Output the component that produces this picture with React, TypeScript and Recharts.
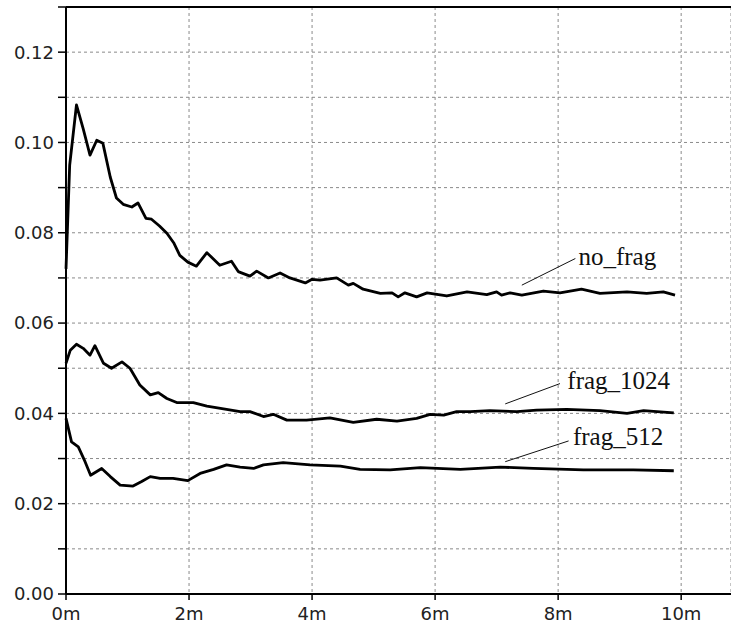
import React from 'react';
import { LineChart, Line, XAxis, YAxis, CartesianGrid, ReferenceLine, ReferenceDot } from 'recharts';

// sample times in minutes
const noFragX = [0, 0.06, 0.17, 0.28, 0.39, 0.5, 0.6, 0.72, 0.82, 0.93, 1.07, 1.17, 1.3, 1.39, 1.52, 1.64, 1.75, 1.85, 1.98, 2.12, 2.29, 2.5, 2.69, 2.8, 2.99, 3.1, 3.29, 3.48, 3.64, 3.89, 4.0, 4.13, 4.4, 4.59, 4.67, 4.83, 5.11, 5.3, 5.4, 5.51, 5.7, 5.87, 6.19, 6.52, 6.84, 7.0, 7.08, 7.22, 7.41, 7.76, 8.03, 8.38, 8.68, 9.12, 9.44, 9.71, 9.9];
const noFragY = [0.072, 0.095, 0.1083, 0.103, 0.0972, 0.1005, 0.0998, 0.0923, 0.0877, 0.0863, 0.0857, 0.0866, 0.0832, 0.083, 0.0815, 0.0799, 0.0778, 0.075, 0.0735, 0.0726, 0.0756, 0.0728, 0.0737, 0.0714, 0.0704, 0.0715, 0.07, 0.0711, 0.07, 0.0689, 0.0697, 0.0695, 0.07, 0.0684, 0.0688, 0.0675, 0.0666, 0.0667, 0.0658, 0.0667, 0.0658, 0.0667, 0.066, 0.0669, 0.0663, 0.0669, 0.0662, 0.0667, 0.0662, 0.0671, 0.0667, 0.0675, 0.0666, 0.0669, 0.0666, 0.0669, 0.0662];

const frag1024X = [0, 0.07, 0.17, 0.28, 0.39, 0.47, 0.61, 0.74, 0.91, 1.04, 1.2, 1.37, 1.5, 1.64, 1.8, 2.07, 2.29, 2.61, 2.83, 2.99, 3.21, 3.37, 3.59, 3.91, 4.29, 4.67, 5.05, 5.38, 5.7, 5.92, 6.14, 6.35, 6.57, 6.89, 7.33, 7.65, 8.14, 8.68, 9.12, 9.39, 9.88];
const frag1024Y = [0.0511, 0.054, 0.0553, 0.0544, 0.0529, 0.055, 0.0511, 0.05, 0.0514, 0.05, 0.0463, 0.0441, 0.0446, 0.0433, 0.0424, 0.0424, 0.0416, 0.0409, 0.0404, 0.0404, 0.0393, 0.0398, 0.0385, 0.0385, 0.039, 0.038, 0.0387, 0.0383, 0.0389, 0.0398, 0.0396, 0.0404, 0.0404, 0.0406, 0.0404, 0.0407, 0.0409, 0.0406, 0.04, 0.0406, 0.0401];

const frag512X = [0, 0.09, 0.2, 0.31, 0.4, 0.58, 0.72, 0.88, 1.09, 1.23, 1.37, 1.53, 1.74, 1.98, 2.18, 2.4, 2.61, 2.83, 3.05, 3.21, 3.53, 3.97, 4.46, 4.78, 5.27, 5.76, 6.41, 7.06, 7.6, 8.41, 9.22, 9.88];
const frag512Y = [0.0389, 0.0337, 0.0326, 0.0293, 0.0263, 0.0278, 0.026, 0.0241, 0.0239, 0.0249, 0.026, 0.0256, 0.0256, 0.0251, 0.0267, 0.0276, 0.0286, 0.0281, 0.0278, 0.0286, 0.0291, 0.0286, 0.0283, 0.0276, 0.0275, 0.028, 0.0276, 0.0281, 0.0278, 0.0275, 0.0275, 0.0273];

const xTicks = [0, 2, 4, 6, 8, 10];
const yTicks = [0, 0.01, 0.02, 0.03, 0.04, 0.05, 0.06, 0.07, 0.08, 0.09, 0.1, 0.11, 0.12, 0.13];

const seriesNames = ['no_frag', 'frag_1024', 'frag_512'];

// leader lines + label anchors (data coords)
const callouts = [
  { name: seriesNames[0], from: { x: 7.41, y: 0.0684 }, to: { x: 8.28, y: 0.0743 }, at: { x: 8.33, y: 0.0749 } },
  { name: seriesNames[1], from: { x: 7.14, y: 0.0421 }, to: { x: 8.03, y: 0.0466 }, at: { x: 8.15, y: 0.0473 } },
  { name: seriesNames[2], from: { x: 7.14, y: 0.0293 }, to: { x: 8.17, y: 0.0339 }, at: { x: 8.24, y: 0.0349 } },
];

const toPoints = (xs: number[], ys: number[]) => xs.map((x, i) => ({ x, y: ys[i] }));

const series = [
  { name: seriesNames[0], data: toPoints(noFragX, noFragY) },
  { name: seriesNames[1], data: toPoints(frag1024X, frag1024Y) },
  { name: seriesNames[2], data: toPoints(frag512X, frag512Y) },
];

const tickFont = { fontFamily: 'DejaVu Sans', fontSize: 18, fill: '#222' };

export default function App() {
  return (
    <div style={{ position: 'absolute', left: 0, top: 0, width: 731, height: 632, background: '#fff' }}>
      <LineChart width={731} height={632} margin={{ top: 7, right: 0, left: 0, bottom: 0 }}>
        <CartesianGrid strokeDasharray="3 3" stroke="#8a8a8a" />
        <XAxis
          dataKey="x"
          type="number"
          domain={[0, 10.81]}
          ticks={xTicks}
          tickFormatter={(v) => `${v}m`}
          height={38}
          allowDuplicatedCategory={false}
          axisLine={{ stroke: '#000', strokeWidth: 2 }}
          tickLine={{ stroke: '#000', strokeWidth: 1.5 }}
          tickSize={6}
          tickMargin={7}
          tick={tickFont}
        />
        <YAxis
          type="number"
          domain={[0, 0.13]}
          ticks={yTicks}
          interval={0}
          tickFormatter={(v) => (Math.round(v * 100) % 2 === 0 ? v.toFixed(2) : '')}
          width={66}
          axisLine={{ stroke: '#000', strokeWidth: 2 }}
          tickLine={{ stroke: '#000', strokeWidth: 1.5 }}
          tickSize={8}
          tickMargin={4}
          tick={tickFont}
        />
        <ReferenceLine y={0.13} stroke="#000" strokeWidth={2} />
        {series.map((s) => (
          <Line
            key={s.name}
            data={s.data}
            dataKey="y"
            name={s.name}
            type="linear"
            stroke="#000"
            strokeWidth={2.8}
            strokeLinejoin="round"
            dot={false}
            isAnimationActive={false}
          />
        ))}
        {callouts.map((c) => (
          <ReferenceLine key={c.name + '-l'} segment={[c.from, c.to]} stroke="#111" strokeWidth={1} />
        ))}
        {callouts.map((c) => (
          <ReferenceDot
            key={c.name + '-t'}
            x={c.at.x}
            y={c.at.y}
            r={0}
            fill="none"
            stroke="none"
            label={{ value: c.name, position: 'right', offset: 0, fill: '#111', fontSize: 25, fontFamily: 'Liberation Serif' }}
          />
        ))}
      </LineChart>
    </div>
  );
}
